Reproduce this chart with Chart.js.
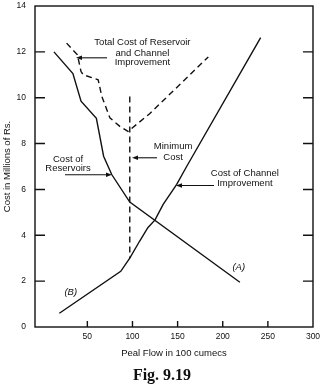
<!DOCTYPE html>
<html>
<head>
<meta charset="utf-8">
<script src="https://cdn.jsdelivr.net/npm/chart.js@4/dist/chart.umd.min.js"></script>
<style>
  html, body { margin: 0; padding: 0; background: #fff; }
  canvas { display: block; }
</style>
</head>
<body>
<canvas id="chart" width="324" height="388"></canvas>
<script>
// Axis ticks
const xTicks = [50, 100, 150, 200, 250, 300];
const yTicks = [0, 2, 4, 6, 8, 10, 12, 14];

// (A) Cost of reservoirs
const reservoirFlow = [13, 34, 43, 60, 68, 77, 97, 219];
const reservoirCost = [12.0, 11.05, 9.85, 9.1, 7.45, 6.65, 5.45, 1.95];

// (B) Cost of channel improvement
const channelFlow = [19, 87, 97, 108, 117, 125, 134, 149, 160, 242];
const channelCost = [0.6, 2.43, 3.0, 3.75, 4.33, 4.67, 5.35, 6.22, 7.0, 12.62];

// Total cost (dashed)
const totalFlow = [27, 39, 43, 45.5, 62, 66, 75, 86, 95, 119, 184];
const totalCost = [12.38, 11.87, 11.14, 11.0, 10.78, 10.06, 9.12, 8.75, 8.53, 9.3, 11.78];

// Minimum cost marker (dashed vertical)
const minimumFlow = [97, 97];
const minimumCost = [10.05, 3.0];

const INK = '#111';
const FONT = '"Liberation Sans", Arial, sans-serif';

/**
 * Labels and arrows, anchored in data units
 */
const notes = [
  { text: 'Total Cost of Reservoir', x: 111, y: 12.42 },
  { text: 'and Channel', x: 111, y: 11.94 },
  { text: 'Improvement', x: 111, y: 11.53 },
  { text: 'Minimum', x: 145, y: 7.87 },
  { text: 'Cost', x: 145, y: 7.38 },
  { text: 'Cost of', x: 28.6, y: 7.33 },
  { text: 'Reservoirs', x: 28.6, y: 6.91 },
  { text: 'Cost of Channel', x: 224.5, y: 6.7 },
  { text: 'Improvement', x: 224.5, y: 6.26 },
  { text: '(A)', x: 217.7, y: 2.6, italic: true },
  { text: '(B)', x: 31.6, y: 1.53, italic: true }
];

const arrows = [
  { from: [71.8, 11.74], to: [37.4, 11.74] },
  { from: [127.2, 7.38], to: [99.5, 7.38] },
  { from: [25.2, 6.64], to: [77.3, 6.64] },
  { from: [190.3, 6.17], to: [148.2, 6.17] }
];

const toPoints = (xs, ys) => xs.map((v, i) => ({ x: v, y: ys[i] }));

// Frame, inward ticks, annotations, caption
const decor = {
  id: 'decor',
  afterDatasetsDraw(chart) {
    const { ctx, chartArea: a, scales: { x, y } } = chart;
    ctx.save();
    ctx.strokeStyle = INK;
    ctx.fillStyle = INK;
    ctx.lineWidth = 1.4;
    ctx.strokeRect(a.left, a.top, a.right - a.left, a.bottom - a.top);

    ctx.beginPath();
    yTicks.filter(v => v > y.min && v < y.max).forEach(v => {
      const py = y.getPixelForValue(v);
      ctx.moveTo(a.left, py); ctx.lineTo(a.left + 10, py);
      ctx.moveTo(a.right, py); ctx.lineTo(a.right - 10, py);
    });
    xTicks.filter(v => v < x.max).forEach(v => {
      const px = x.getPixelForValue(v);
      ctx.moveTo(px, a.bottom); ctx.lineTo(px, a.bottom - 6);
    });
    ctx.stroke();

    // arrows
    ctx.lineWidth = 1.1;
    arrows.forEach(ar => {
      const x1 = x.getPixelForValue(ar.from[0]), y1 = y.getPixelForValue(ar.from[1]);
      const x2 = x.getPixelForValue(ar.to[0]), y2 = y.getPixelForValue(ar.to[1]);
      const ang = Math.atan2(y2 - y1, x2 - x1);
      ctx.beginPath();
      ctx.moveTo(x1, y1);
      ctx.lineTo(x2 - 4 * Math.cos(ang), y2 - 4 * Math.sin(ang));
      ctx.stroke();
      ctx.beginPath();
      ctx.moveTo(x2, y2);
      ctx.lineTo(x2 - 6 * Math.cos(ang) + 2.3 * Math.sin(ang), y2 - 6 * Math.sin(ang) - 2.3 * Math.cos(ang));
      ctx.lineTo(x2 - 6 * Math.cos(ang) - 2.3 * Math.sin(ang), y2 - 6 * Math.sin(ang) + 2.3 * Math.cos(ang));
      ctx.closePath();
      ctx.fill();
    });

    // text
    ctx.textAlign = 'center';
    ctx.textBaseline = 'middle';
    notes.forEach(n => {
      ctx.font = (n.italic ? 'italic ' : '') + '9.5px ' + FONT;
      ctx.fillText(n.text, x.getPixelForValue(n.x), y.getPixelForValue(n.y));
    });

    ctx.font = 'bold 16px "Liberation Serif", "Times New Roman", serif';
    ctx.fillText('Fig. 9.19', chart.width / 2, 376);
    ctx.restore();
  }
};

const lineStyle = (dash) => ({
  borderColor: INK,
  borderWidth: 1.4,
  borderDash: dash || [],
  pointRadius: 0,
  fill: false,
  tension: 0
});

new Chart(document.getElementById('chart'), {
  type: 'line',
  data: {
    datasets: [
      { label: 'Cost of Reservoirs', data: toPoints(reservoirFlow, reservoirCost), ...lineStyle() },
      { label: 'Cost of Channel Improvement', data: toPoints(channelFlow, channelCost), ...lineStyle() },
      { label: 'Total Cost', data: toPoints(totalFlow, totalCost), ...lineStyle([6, 4]) },
      { label: 'Minimum Cost', data: toPoints(minimumFlow, minimumCost), ...lineStyle([6, 4]) }
    ]
  },
  options: {
    responsive: false,
    animation: false,
    layout: { padding: { top: 6, right: 11, bottom: 0, left: 0 } },
    plugins: {
      legend: { display: false },
      tooltip: { enabled: false }
    },
    scales: {
      x: {
        type: 'linear',
        min: -8,
        max: 300,
        afterBuildTicks: s => { s.ticks = xTicks.map(v => ({ value: v })); },
        afterFit: s => { s.height = 61; s.paddingLeft = 0; s.paddingRight = 0; },
        grid: { display: false, drawTicks: false },
        border: { display: false },
        ticks: {
          autoSkip: false,
          maxRotation: 0,
          padding: 5,
          color: INK,
          font: { family: FONT, size: 8.5 }
        },
        title: {
          display: true,
          text: 'Peal Flow in 100 cumecs',
          color: INK,
          font: { family: FONT, size: 9.5 },
          padding: { top: 0, bottom: 29 }
        }
      },
      y: {
        type: 'linear',
        min: 0,
        max: 14,
        afterBuildTicks: s => { s.ticks = yTicks.map(v => ({ value: v })); },
        afterFit: s => { s.width = 35; s.paddingTop = 0; s.paddingBottom = 0; },
        grid: { display: false, drawTicks: false },
        border: { display: false },
        ticks: {
          padding: 9,
          color: INK,
          font: { family: FONT, size: 8.5 }
        },
        title: {
          display: true,
          text: 'Cost in Millions of Rs.',
          color: INK,
          font: { family: FONT, size: 9.5 },
          padding: { top: 2, bottom: 0 }
        }
      }
    }
  },
  plugins: [decor]
});
</script>
</body>
</html>
